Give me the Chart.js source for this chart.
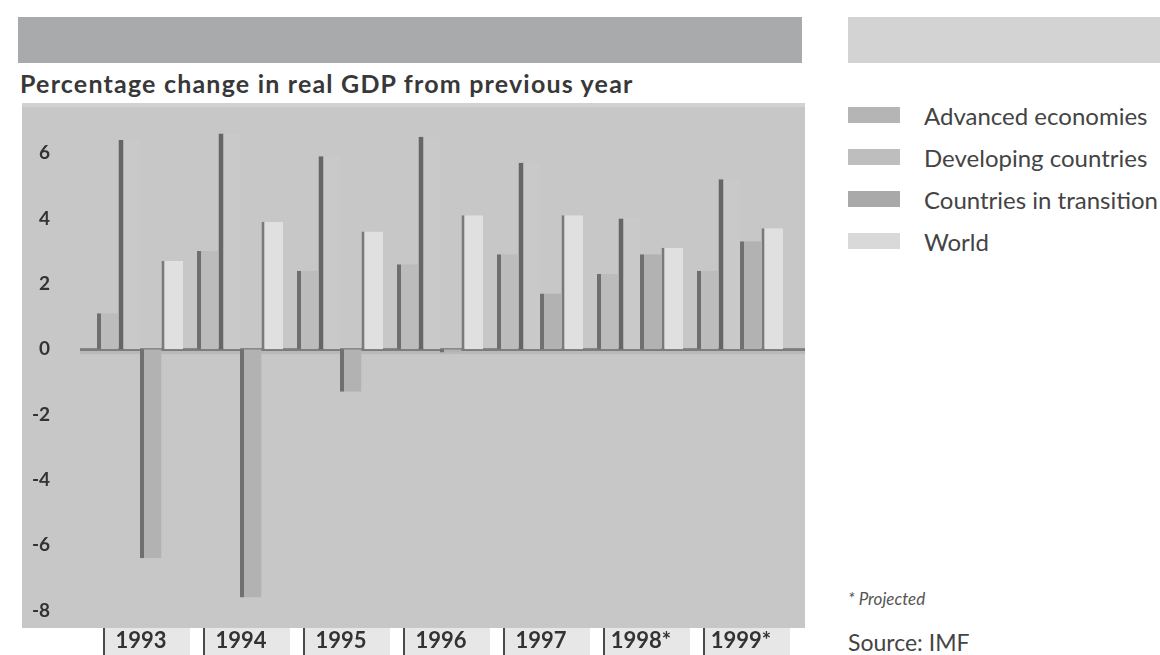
<!DOCTYPE html>
<html>
<head>
<meta charset="utf-8">
<script src="https://cdn.jsdelivr.net/npm/chart.js@4/dist/chart.umd.min.js"></script>
<style>
  body { margin: 0; background: #fff; width: 1160px; height: 655px; overflow: hidden; position: relative; font-family: Lato, "Open Sans", sans-serif; }
  #chartBox { position: absolute; left: 0; top: 0; width: 810px; height: 655px; }
  .band { position: absolute; top: 17px; height: 46px; }
  #bandLeft { left: 18px; width: 784px; background: #a9aaac; }
  #bandRight { left: 848px; width: 312px; background: #d3d3d3; }
  #title { position: absolute; left: 20px; top: 68px; font-size: 25px; letter-spacing: 1.2px; font-weight: bold; color: #383838; white-space: nowrap; }
  .legend-item { position: absolute; left: 848px; height: 30px; display: flex; align-items: center; }
  .swatch { width: 52px; height: 16px; margin-right: 24px; }
  .legend-item span { font-size: 24px; color: #444; white-space: nowrap; }
  #projected { position: absolute; left: 848px; top: 588px; font-size: 17px; font-style: italic; color: #555; }
  #source { position: absolute; left: 848px; top: 628px; font-size: 23px; color: #444; }
</style>
</head>
<body>
<div class="band" id="bandLeft"></div>
<div class="band" id="bandRight"></div>
<div id="title">Percentage change in real GDP from previous year</div>
<div id="chartBox"><canvas id="gdpChart" width="810" height="655"></canvas></div>
<div id="legend"></div>
<div id="projected">* Projected</div>
<div id="source">Source: IMF</div>

<script>
const years = ['1993', '1994', '1995', '1996', '1997', '1998*', '1999*'];
const advanced = [1.1, 3.0, 2.4, 2.6, 2.9, 2.3, 2.4];
const developing = [6.4, 6.6, 5.9, 6.5, 5.7, 4.0, 5.2];
const transition = [-6.4, -7.6, -1.3, -0.1, 1.7, 2.9, 3.3];
const world = [2.7, 3.9, 3.6, 4.1, 4.1, 3.1, 3.7];
const yTicks = [-8, -6, -4, -2, 0, 2, 4, 6];

const seriesNames = ['Advanced economies', 'Developing countries', 'Countries in transition', 'World'];
const swatchColors = ['#b5b5b5', '#bebebe', '#a9a9a9', '#d9d9d9'];

// legend on the right, plain html
const legendEl = document.getElementById('legend');
seriesNames.forEach((name, i) => {
  const item = document.createElement('div');
  item.className = 'legend-item';
  item.style.top = (100 + i * 42) + 'px';
  item.innerHTML = `<div class="swatch" style="background:${swatchColors[i]}"></div><span>${name}</span>`;
  legendEl.appendChild(item);
});

// gray panel, year boxes and the floor line
const backdrop = {
  id: 'backdrop',
  beforeDraw(chart) {
    const ctx = chart.ctx;
    const x = chart.scales.x;
    ctx.save();
    ctx.fillStyle = '#c7c7c7';
    ctx.fillRect(22, 103, 783, 525);
    ctx.fillStyle = '#d2d2d2';
    ctx.fillRect(22, 103, 783, 4);
    years.forEach((y, i) => {
      const c = x.getPixelForValue(i);
      ctx.fillStyle = '#e7e7e7';
      ctx.fillRect(c - 37, 628, 87, 27);
      ctx.fillStyle = '#4a4a4a';
      ctx.fillRect(c - 37, 628, 2, 27);
    });
    ctx.restore();
  },
  beforeDatasetsDraw(chart) {
    const ctx = chart.ctx;
    const y0 = chart.scales.y.getPixelForValue(0);
    ctx.save();
    ctx.fillStyle = '#7c7c7c';
    ctx.fillRect(80, y0 - 1, 725, 3);
    ctx.fillStyle = '#b9b9b9';
    ctx.fillRect(80, y0 + 2, 725, 3);
    ctx.restore();
  },
  afterDraw(chart) {
    // year labels inside the boxes
    const ctx = chart.ctx;
    const x = chart.scales.x;
    ctx.save();
    ctx.font = 'bold 22px Lato';
    ctx.fillStyle = '#333';
    ctx.textAlign = 'center';
    ctx.textBaseline = 'middle';
    years.forEach((y, i) => ctx.fillText(y, x.getPixelForValue(i) + 1, 641));
    ctx.restore();
  }
};

const chartCtx = document.getElementById('gdpChart').getContext('2d');
const gdpChart = new Chart(chartCtx, {
  type: 'bar',
  data: {
    labels: years,
    datasets: [
      { label: seriesNames[0], data: advanced, backgroundColor: '#bcbcbc', borderColor: '#6e6e6e', borderWidth: { left: 4, right: 0, top: 0, bottom: 0 } },
      { label: seriesNames[1], data: developing, backgroundColor: '#c9c9c9', borderColor: '#666666', borderWidth: { left: 5, right: 0, top: 0, bottom: 0 } },
      { label: seriesNames[2], data: transition, backgroundColor: '#b2b2b2', borderColor: '#707070', borderWidth: { left: 4, right: 0, top: 0, bottom: 0 } },
      { label: seriesNames[3], data: world, backgroundColor: '#e0e0e0', borderColor: '#7a7a7a', borderWidth: { left: 3, right: 0, top: 0, bottom: 0 } }
    ]
  },
  options: {
    responsive: false,
    animation: false,
    devicePixelRatio: 1,
    layout: { padding: { top: 104, right: 20, left: 0, bottom: 0 } },
    plugins: { legend: { display: false }, tooltip: { enabled: false } },
    datasets: { bar: { categoryPercentage: 0.86, barPercentage: 1.0, borderSkipped: false } },
    scales: {
      x: {
        grid: { display: false },
        border: { display: false },
        ticks: { display: false },
        afterFit(scale) { scale.height = 28; scale.paddingLeft = 0; scale.paddingRight = 0; }
      },
      y: {
        min: -8.5,
        max: 7.5,
        grid: { display: false, drawTicks: false },
        border: { display: false },
        ticks: { color: '#333', font: { family: 'Lato', size: 19, weight: 'bold' }, padding: 40 },
        afterBuildTicks(scale) { scale.ticks = yTicks.map(v => ({ value: v })); },
        afterFit(scale) { scale.width = 90; scale.paddingTop = 0; scale.paddingBottom = 0; }
      }
    }
  },
  plugins: [backdrop]
});
</script>
</body>
</html>
